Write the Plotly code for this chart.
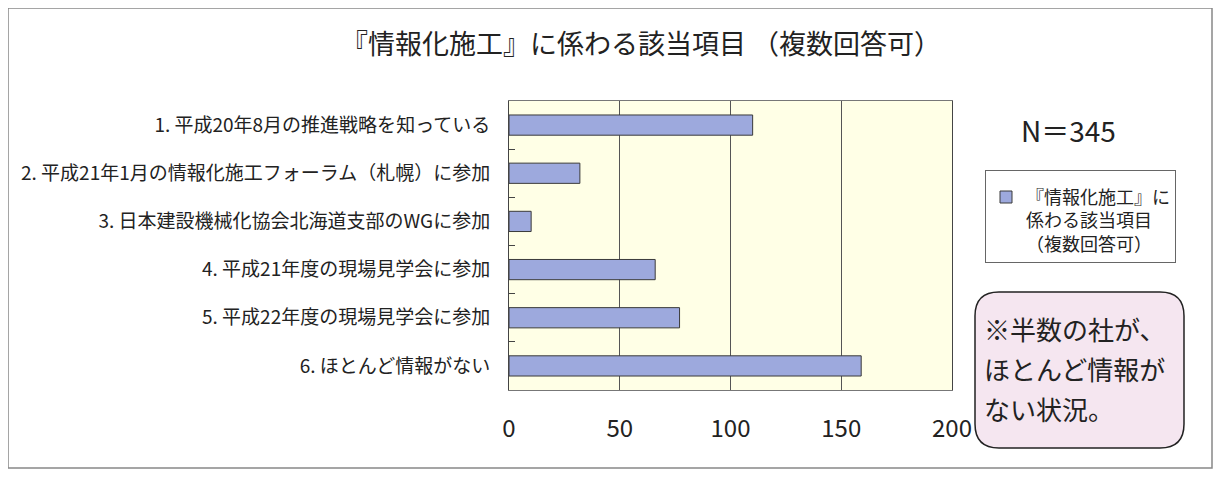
import plotly.graph_objects as go

# ------------------------------------------------------------
# Données
# ------------------------------------------------------------
categories = [
    "1. 平成20年8月の推進戦略を知っている",
    "2. 平成21年1月の情報化施工フォーラム（札幌）に参加",
    "3. 日本建設機械化協会北海道支部のWGに参加",
    "4. 平成21年度の現場見学会に参加",
    "5. 平成22年度の現場見学会に参加",
    "6. ほとんど情報がない",
]
values = [110, 32, 10, 66, 77, 159]
x_ticks = [0, 50, 100, 150, 200]

title_text = "『情報化施工』に係わる該当項目 （複数回答可）"
legend_name = "『情報化施工』に<br>係わる該当項目<br>（複数回答可）"
note_lines = ["※半数の社が、", "ほとんど情報が", "ない状況。"]
n_text = "N＝345"

FONT = "Noto Sans CJK JP, sans-serif"
OFF = 8                       # marge du <body> de la page
W, H = 1221 - 2 * OFF, 477 - 2 * OFF
# zone de tracé en pixels (coordonnées de la page)
PL, PR, PT, PB = 509, 952, 101, 390


def px_to_paper(x, y):
    """Convertit des pixels de la page en coordonnées 'paper'."""
    return (x - PL) / (PR - PL), (PB - y) / (PB - PT)


def rounded_rect(x0, y0, x1, y1, r):
    pts = [
        ("M", (x0 + r, y0)), ("L", (x1 - r, y0)), ("Q", (x1, y0), (x1, y0 + r)),
        ("L", (x1, y1 - r)), ("Q", (x1, y1), (x1 - r, y1)),
        ("L", (x0 + r, y1)), ("Q", (x0, y1), (x0, y1 - r)),
        ("L", (x0, y0 + r)), ("Q", (x0, y0), (x0 + r, y0)),
    ]
    out = []
    for cmd, *coords in pts:
        s = " ".join("{:.5f},{:.5f}".format(*px_to_paper(*c)) for c in coords)
        out.append(f"{cmd} {s}")
    return " ".join(out) + " Z"


fig = go.Figure()
fig.add_trace(go.Bar(
    y=categories,
    x=values,
    orientation="h",
    name=legend_name,
    marker=dict(color="#9DA9DD", line=dict(color="#3a3a3a", width=1)),
    showlegend=True,
))

fig.update_layout(
    width=W, height=H,
    margin=dict(l=PL - OFF, r=W + OFF - PR, t=PT - OFF, b=H + OFF - PB),
    paper_bgcolor="white",
    plot_bgcolor="#FFFFE6",
    font=dict(family=FONT, color="#222222"),
    bargap=0.58,
    title=dict(text=title_text, x=((346 + 936) / 2 - OFF) / W, xanchor="center",
               y=1 - (45 - OFF) / H, yanchor="middle",
               font=dict(size=27, family=FONT, color="#222222")),
    legend=dict(
        x=px_to_paper(985, 0)[0], y=px_to_paper(0, 170)[1],
        xanchor="left", yanchor="top",
        bordercolor="#666666", borderwidth=1, bgcolor="white",
        font=dict(size=18, family=FONT, color="#222222"),
        valign="top",
        title=dict(text=" ", font=dict(size=6)),
    ),
    showlegend=True,
)

fig.update_xaxes(
    range=[0, 200], tickvals=x_ticks,
    showgrid=True, gridcolor="#555555", gridwidth=1,
    showline=True, linecolor="#777777", mirror=True,
    ticks="", zeroline=False,
    tickfont=dict(size=24, family=FONT, color="#222222"),
    ticklabelstandoff=17,
)
fig.update_yaxes(
    autorange="reversed",
    showline=True, linecolor="#444444", mirror=True,
    ticks="inside", ticklen=6, tickcolor="#444444",
    tickson="boundaries",
    showgrid=False,
    tickfont=dict(size=19, family=FONT, color="#222222"),
    ticklabelstandoff=14,
)

# cadre extérieur
x0, y0 = px_to_paper(OFF, OFF)
x1, y1 = px_to_paper(1221 - OFF - 1, 477 - OFF - 1)
fig.add_shape(type="rect", xref="paper", yref="paper", x0=x0, y0=y0, x1=x1, y1=y1,
              line=dict(color="#888888", width=1.5), fillcolor="rgba(0,0,0,0)", layer="below")

# boîte de commentaire arrondie
fig.add_shape(type="path", xref="paper", yref="paper",
              path=rounded_rect(975, 292, 1184, 448, 24),
              line=dict(color="#222222", width=1.5), fillcolor="#F5E6F0")

for i, line in enumerate(note_lines):
    ax, ay = px_to_paper(982, 328 + 40 * i)
    fig.add_annotation(x=ax, y=ay, xref="paper", yref="paper", text=line,
                       showarrow=False, xanchor="left", yanchor="middle",
                       font=dict(size=26, family=FONT, color="#222222"))

nx, ny = px_to_paper(1068, 130)
fig.add_annotation(x=nx, y=ny, xref="paper", yref="paper", text=n_text,
                   showarrow=False, xanchor="center", yanchor="middle",
                   font=dict(size=28, family=FONT, color="#222222"))

fig.write_html("out.html")
